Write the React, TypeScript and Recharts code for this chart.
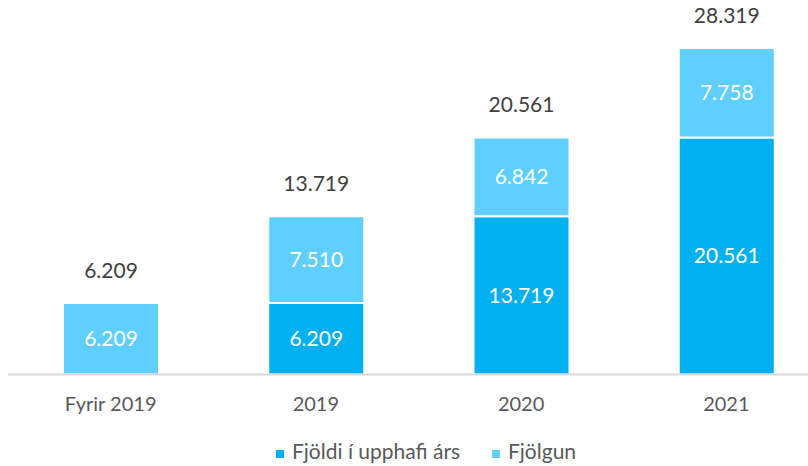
import React from 'react';
import { BarChart, Bar, XAxis, YAxis, LabelList } from 'recharts';

const categories = ['Fyrir 2019', '2019', '2020', '2021'];
const startOfYear: (number | null)[] = [null, 6209, 13719, 20561];
const growth = [6209, 7510, 6842, 7758];
const totals = [6209, 13719, 20561, 28319];

const seriesNames = ['Fjöldi í upphafi árs', 'Fjölgun'];
const DARK = '#00B0F0';
const LIGHT = '#5FCFFF';
const FONT = 'Lato, "Open Sans", sans-serif';

const data = categories.map((c, i) => ({
  name: c,
  start: startOfYear[i],
  growth: growth[i],
  total: totals[i],
}));

const fmt = (v: any) =>
  v == null ? '' : String(v).replace(/\B(?=(\d{3})+(?!\d))/g, '.');

export default function App() {
  return (
    <div style={{ position: 'fixed', left: 0, top: 0, width: 808, height: 466, overflow: 'hidden', fontFamily: FONT, background: '#fff' }}>
      <BarChart
        width={829}
        height={466}
        data={data}
        margin={{ top: 28.6, right: 0, left: 8, bottom: 0 }}
      >
        <YAxis hide domain={[0, 30000]} />
        <XAxis
          dataKey="name"
          height={91.5}
          axisLine={{ stroke: '#D9D9D9', strokeWidth: 2 }}
          tickLine={false}
          tickSize={0}
          tickMargin={22}
          tick={{ fill: '#595959', fontSize: 20, fontFamily: FONT }}
        />
        <Bar dataKey="start" name={seriesNames[0]} stackId="a" fill={DARK} stroke="#fff" strokeWidth={2} barSize={96} isAnimationActive={false}>
          <LabelList dataKey="start" position="center" formatter={fmt} fill="#fff" fontSize={21} fontFamily={FONT} />
        </Bar>
        <Bar dataKey="growth" name={seriesNames[1]} stackId="a" fill={LIGHT} stroke="#fff" strokeWidth={2} barSize={96} isAnimationActive={false}>
          <LabelList dataKey="growth" position="center" formatter={fmt} fill="#fff" fontSize={21} fontFamily={FONT} />
          <LabelList dataKey="total" position="top" offset={25} formatter={fmt} fill="#404040" fontSize={21} fontFamily={FONT} />
        </Bar>
      </BarChart>
      <div style={{ position: 'absolute', left: 276, top: 450, width: 8, height: 8, background: DARK }} />
      <div style={{ position: 'absolute', left: 292, top: 440, fontSize: 21, lineHeight: '21px', color: '#595959', whiteSpace: 'nowrap' }}>{seriesNames[0]}</div>
      <div style={{ position: 'absolute', left: 492, top: 450, width: 8, height: 8, background: LIGHT }} />
      <div style={{ position: 'absolute', left: 508, top: 440, fontSize: 21, lineHeight: '21px', color: '#595959', whiteSpace: 'nowrap' }}>{seriesNames[1]}</div>
    </div>
  );
}
